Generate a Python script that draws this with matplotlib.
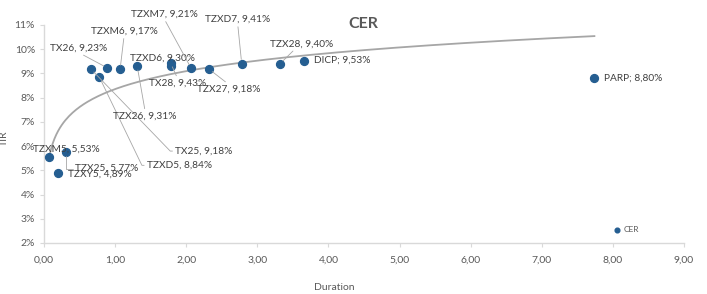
import numpy as np
import matplotlib.pyplot as plt
from matplotlib.ticker import FuncFormatter, MultipleLocator

plt.rcParams['font.family'] = ['Lato', 'DejaVu Sans']

# bonds CER: duration (years) vs TIR (%)
names = ['TZXM5', 'TZXY5', 'TZX25', 'TX25', 'TZXD5', 'TX26', 'TZXM6', 'TZX26',
         'TZXD6', 'TX28', 'TZXM7', 'TZX27', 'TZXD7', 'TZX28', 'DICP', 'PARP']
duration = [0.07, 0.19, 0.31, 0.66, 0.78, 0.89, 1.07, 1.31,
            1.78, 1.78, 2.07, 2.32, 2.78, 3.32, 3.66, 7.74]
tir = [5.53, 4.89, 5.77, 9.18, 8.84, 9.23, 9.17, 9.31,
       9.30, 9.43, 9.21, 9.18, 9.41, 9.40, 9.53, 8.80]
separators = [', '] * 14 + ['; ', '; ']

# label placement: offset of label centre (px) from the point, leader attach point, connector
elbow = 'arc,angleA=180,armA=5,angleB=0,armB=0,rad=0'
label_pos = {
    'TZXM5': ((17, 8), None, None),
    'TZXY5': ((42, -1), None, None),
    'TZX25': ((41, -17), (0, 0.5), 'angle,angleA=0,angleB=90,rad=0'),
    'TX25': ((113, -82), (0, 0.5), elbow),
    'TZXD5': ((80, -88), (0, 0.5), elbow),
    'TX26': ((-29, 20), (0.5, 0), None),
    'TZXM6': ((4, 38), (0.5, 0), None),
    'TZX26': ((8, -50), (0.5, 1), None),
    'TZXD6': ((-8, 8), None, None),
    'TX28': ((7, -20), (0.5, 1), None),
    'TZXM7': ((-27, 54), (0.5, 0), None),
    'TZX27': ((20, -20), (0.5, 1), None),
    'TZXD7': ((-4, 44), (0.5, 0), None),
    'TZX28': ((22, 20), (0.4, 0), None),
    'DICP': ((38, 0), None, None),
    'PARP': ((39, 0), None, None),
}

blue = '#255e91'
grey_text = '#595959'
axis_grey = '#d9d9d9'

fig = plt.figure(figsize=(7.07, 2.94), dpi=100)
ax = fig.add_axes([44 / 707, 1 - 243 / 294, 640 / 707, 218 / 294])

# logarithmic trend line over the data range
coef = np.polyfit(np.log(duration), tir, 1)
xs = np.linspace(min(duration), max(duration), 300)
ax.plot(xs, coef[0] * np.log(xs) + coef[1], color='#a6a6a6', linewidth=1.3, zorder=2)

ax.scatter(duration, tir, s=32, color=blue, zorder=3, label='CER')

for name, sep, x, y in zip(names, separators, duration, tir):
    txt = f"{name}{sep}{y:.2f}%".replace('.', ',')
    offset, relpos, conn = label_pos[name]
    arrow = None
    if relpos is not None:
        arrow = dict(arrowstyle='-', color='#a6a6a6', lw=0.6, shrinkA=0, shrinkB=3,
                     relpos=relpos)
        if conn:
            arrow['connectionstyle'] = conn
    ax.annotate(txt, xy=(x, y), xytext=offset, textcoords='offset pixels',
                ha='center', va='center', fontsize=7.3, color='#404040',
                arrowprops=arrow, zorder=4)

ax.set_xlim(0, 9)
ax.set_ylim(2, 11)
ax.xaxis.set_major_locator(MultipleLocator(1))
ax.yaxis.set_major_locator(MultipleLocator(1))
ax.xaxis.set_major_formatter(FuncFormatter(lambda v, p: f"{v:.2f}".replace('.', ',')))
ax.yaxis.set_major_formatter(FuncFormatter(lambda v, p: f"{v:.0f}%"))
ax.tick_params(colors=axis_grey, labelcolor=grey_text, labelsize=7.5, length=3, width=0.8)
ax.tick_params(axis='x', pad=6)

for side in ['top', 'right']:
    ax.spines[side].set_visible(False)
for side in ['left', 'bottom']:
    ax.spines[side].set_color(axis_grey)
    ax.spines[side].set_linewidth(1.0)

fig.text(363 / 707, 1 - 24 / 294, 'CER', ha='center', va='center', fontsize=11.5,
         fontweight='bold', color=grey_text)
fig.text(334 / 707, 1 - 288 / 294, 'Duration', ha='center', va='center', fontsize=7.5,
         color=grey_text)
fig.text(4 / 707, 1 - 138 / 294, 'TIR', ha='center', va='center', rotation=90,
         fontsize=7.5, color=grey_text)

ax.legend(loc='upper left', bbox_to_anchor=((609 - 44) / 640, (243 - 226) / 218),
          frameon=False, fontsize=6, handletextpad=-0.3, borderpad=0, borderaxespad=0,
          markerscale=0.6, labelcolor=grey_text)

fig.savefig('out.png', dpi=100)
